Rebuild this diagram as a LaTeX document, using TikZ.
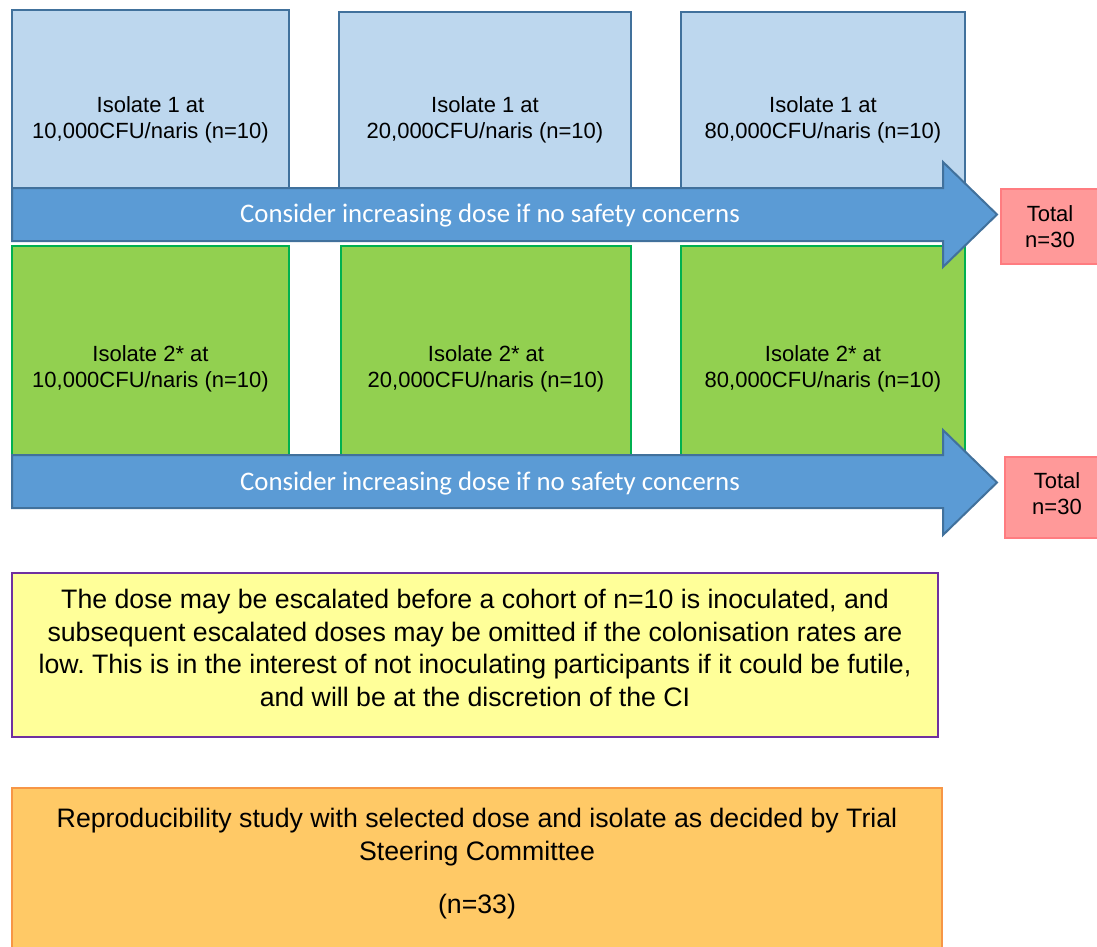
\documentclass[tikz,border=0pt]{standalone}
\usepackage{fontspec}
\setmainfont{Liberation Sans}
\newfontfamily\calfont{Carlito}
\frenchspacing
\definecolor{bluefill}{HTML}{BDD7EE}
\definecolor{bluedraw}{HTML}{41719C}
\definecolor{arrowfill}{HTML}{5B9BD5}
\definecolor{greenfill}{HTML}{92D050}
\definecolor{greendraw}{HTML}{00B050}
\definecolor{totalfill}{HTML}{FF9999}
\definecolor{totaldraw}{HTML}{FF7C80}
\definecolor{yelfill}{HTML}{FFFF99}
\definecolor{yeldraw}{HTML}{7030A0}
\definecolor{orafill}{HTML}{FFC966}
\definecolor{oradraw}{HTML}{F79646}
\tikzset{
  boxtext/.style={align=center, font=\fontsize{22}{26}\selectfont, inner sep=0pt},
  bluebox/.style={fill=bluefill, draw=bluedraw, line width=2pt},
  greenbox/.style={fill=greenfill, draw=greendraw, line width=2pt},
  bigarrow/.style={fill=arrowfill, draw=bluedraw, line width=2pt, line join=miter},
  arrowtext/.style={text=white, font=\calfont\fontsize{26.8}{30}\selectfont, inner sep=0pt},
  totalbox/.style={fill=totalfill, draw=totaldraw, line width=2pt},
  notebox/.style={fill=yelfill, draw=yeldraw, line width=2pt},
  studybox/.style={fill=orafill, draw=oradraw, line width=2pt},
  bigtext/.style={align=center, font=\fontsize{26.7}{32.5}\selectfont, inner sep=0pt},
}
\begin{document}
\begin{tikzpicture}[x=1pt,y=-1pt]
\useasboundingbox[fill=white] (0,0) rectangle (1097,947);
% blue boxes
\draw[bluebox] (12,10) rectangle (289,241);
\draw[bluebox] (339,12) rectangle (631,241);
\draw[bluebox] (681,12) rectangle (965,241);
\node[boxtext] (b1) at (150.5,120) {Isolate 1 at\\10,000CFU/naris (n=10)};
\node[boxtext] (b2) at (485,120) {Isolate 1 at\\20,000CFU/naris (n=10)};
\node[boxtext] (b3) at (823,120) {Isolate 1 at\\80,000CFU/naris (n=10)};
% green boxes
\draw[greenbox] (12,246) rectangle (289,508);
\draw[greenbox] (341,246) rectangle (631,508);
\draw[greenbox] (681,246) rectangle (965,508);
\node[boxtext] (g1) at (150.5,368.5) {Isolate 2* at\\10,000CFU/naris (n=10)};
\node[boxtext] (g2) at (486,368.5) {Isolate 2* at\\20,000CFU/naris (n=10)};
\node[boxtext] (g3) at (823,368.5) {Isolate 2* at\\80,000CFU/naris (n=10)};
% arrows
\draw[bigarrow] (12,188) -- (943,188) -- (943,162) -- (997,214.5) -- (943,267) -- (943,241) -- (12,241) -- cycle;
\node[arrowtext] (a1) at (490,215) {Consider increasing dose if no safety concerns};
\draw[bigarrow] (12,455) -- (943,455) -- (943,430) -- (997,482.5) -- (943,535) -- (943,508) -- (12,508) -- cycle;
\node[arrowtext] (a2) at (490,483) {Consider increasing dose if no safety concerns};
% totals
\draw[totalbox] (1001,189) rectangle (1100,264);
\node[boxtext] (t1) at (1050,226.5) {Total\\n=30};
\draw[totalbox] (1005,457) rectangle (1100,538);
\node[boxtext] (t2) at (1057,494) {Total\\n=30};
% note
\draw[notebox] (12,573) rectangle (938,737);
\node[bigtext] (note) at (475,648) {The dose may be escalated before a cohort of n=10 is inoculated, and\\subsequent escalated doses may be omitted if the colonisation rates are\\low. This is in the interest of not inoculating participants if it could be futile,\\and will be at the discretion of the CI};
% study
\draw[studybox] (12,788) rectangle (942,950);
\node[bigtext,font=\fontsize{26.7}{33}\selectfont] (s1) at (477,837.5) {Reproducibility study with selected dose and isolate as decided by Trial\\Steering Committee};
\node[bigtext] (s2) at (477,907) {(n=33)};
\end{tikzpicture}
\end{document}
